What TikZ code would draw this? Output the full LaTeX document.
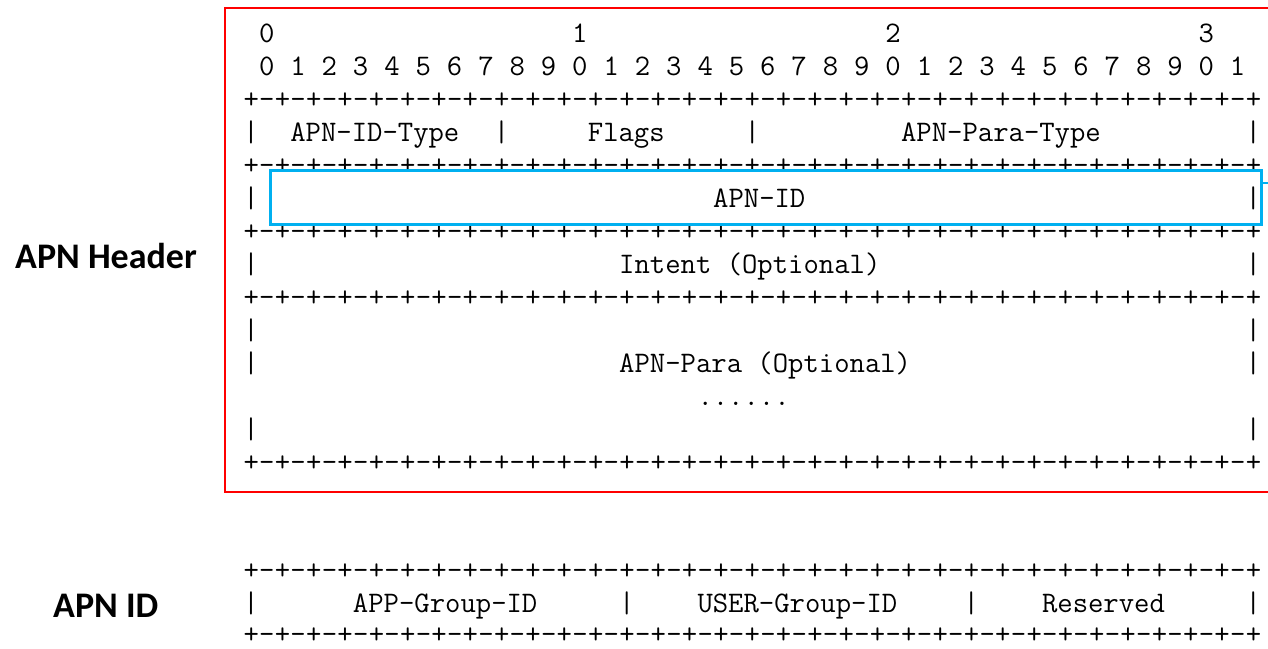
\documentclass[tikz,border=0pt]{standalone}
\usepackage{fontspec}
\newfontfamily\lblfont{Carlito}
\definecolor{apnblue}{HTML}{00B0F0}
\newcommand\pmcell[1]{\makebox[15.66pt]{#1}}
\newcommand\pmrow{\pmcell{+}\foreach \j in {1,...,32}{\pmcell{-}\pmcell{+}}}
\begin{document}
\begin{tikzpicture}[x=1pt,y=-1pt,
  mono/.style={font=\fontsize{29.83}{30}\selectfont\ttfamily, inner sep=0pt, anchor=base west},
  lbl/.style={font=\fontsize{36}{40}\selectfont\lblfont\bfseries, inner sep=0pt, anchor=base west},
  redframe/.style={draw=red, line width=2pt},
  bluebox/.style={draw=apnblue, line width=2.5pt}]
\useasboundingbox (0,0) rectangle (1268,648);
% frame around the header
\draw[redframe] (1275,8) -- (225,8) -- (225,492) -- (1275,492);
% bit numbering
\foreach \d/\c in {0/1,1/21,2/41,3/61}
  \node[mono] (tens\d) at ({243.17+15.66*\c},42) {\d};
\foreach \i in {0,...,31}{
  \pgfmathtruncatemacro\dg{mod(\i,10)}
  \node[mono] (bit\i) at ({243.17+15.66*(2*\i+1)},75) {\dg};}
% separator lines
\foreach \n/\y in {a/108,b/174,c/240,d/306,e/471,f/579,g/643}
  \node[mono] (sep\n) at (243.17,\y) {\pmrow};
% vertical bars
\foreach \c/\y [count=\k] in {0/141,16/141,32/141,64/141,0/207,64/207,0/273,64/273,
  0/339,64/339,0/372,64/372,0/438,64/438,0/612,24/612,46/612,64/612}
  \node[mono] (bar\k) at ({243.17+15.66*\c},\y) {|};
% field texts
\node[mono] (idtype) at ({243.17+15.66*3},141) {APN-ID-Type};
\node[mono] (flags) at ({243.17+15.66*22},141) {Flags};
\node[mono] (paratype) at ({243.17+15.66*42},141) {APN-Para-Type};
\node[mono] (apnid) at ({243.17+15.66*30},207) {APN-ID};
\node[mono] (intent) at ({243.17+15.66*24},273) {Intent (Optional)};
\node[mono] (para) at ({243.17+15.66*24},372) {APN-Para (Optional)};
\node[mono] (dots) at ({243.17+15.66*29},405) {......};
\node[mono] (appgrp) at ({243.17+15.66*7},612) {APP-Group-ID};
\node[mono] (usergrp) at ({243.17+15.66*29},612) {USER-Group-ID};
\node[mono] (resv) at ({243.17+15.66*51},612) {Reserved};
% highlight of the APN-ID field
\node[bluebox, minimum width=991pt, minimum height=54pt, inner sep=0pt, anchor=north west] (idbox) at (269,169) {};
\coordinate (stubend) at (1275,183);
\draw[bluebox] (idbox.east |- stubend) -- (stubend);
% side labels
\node[lbl] (hdrlabel) at (15,268) {APN Header};
\node[lbl] (idlabel) at (53,617) {APN ID};
\end{tikzpicture}
\end{document}
